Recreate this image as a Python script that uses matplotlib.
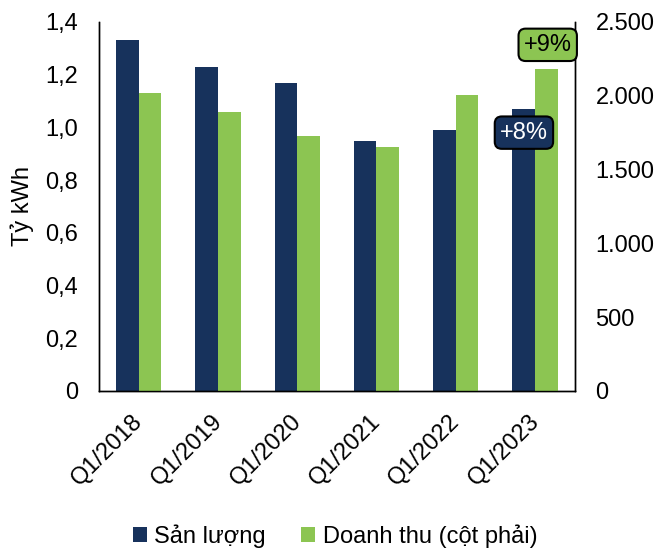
import matplotlib
matplotlib.use("Agg")
import matplotlib.pyplot as plt
import matplotlib.transforms as mtransforms
import numpy as np
from matplotlib.ticker import FuncFormatter

plt.rcParams['font.family'] = ['Liberation Sans', 'DejaVu Sans']

categories = ["Q1/2018", "Q1/2019", "Q1/2020", "Q1/2021", "Q1/2022", "Q1/2023"]
san_luong = [1.33, 1.23, 1.17, 0.95, 0.99, 1.07]          # Tỷ kWh (left axis)
doanh_thu = [2020, 1890, 1725, 1650, 2005, 2180]          # right axis
left_ticks = [0, 0.2, 0.4, 0.6, 0.8, 1.0, 1.2, 1.4]
right_ticks = [0, 500, 1000, 1500, 2000, 2500]

navy = "#17325C"
green = "#8CC552"
fs = 17

fig = plt.figure(figsize=(6.57, 5.49), dpi=100)
ax = fig.add_axes([0.1507, 0.288, 0.724, 0.672])
ax2 = ax.twinx()

x = np.arange(len(categories))
w = 0.286
b1 = ax.bar(x - w/2, san_luong, width=w, color=navy, label="Sản lượng")
b2 = ax2.bar(x + w/2, doanh_thu, width=w, color=green, label="Doanh thu (cột phải)")

ax.set_xlim(-0.5, len(categories) - 0.5)
ax.set_ylim(0, 1.4)
ax2.set_ylim(0, 2500)
ax.set_yticks(left_ticks)
ax2.set_yticks(right_ticks)

ax.yaxis.set_major_formatter(FuncFormatter(lambda v, p: "0" if v == 0 else f"{v:.1f}".replace(".", ",")))
ax2.yaxis.set_major_formatter(FuncFormatter(lambda v, p: f"{int(v):,}".replace(",", ".")))

for a in (ax, ax2):
    a.tick_params(axis='y', length=0, labelsize=fs, pad=15)
    a.tick_params(axis='x', length=0)
    a.spines['top'].set_visible(False)
    for s in ('left', 'right', 'bottom'):
        a.spines[s].set_color("black")
        a.spines[s].set_linewidth(1.0)

ax.set_xticks(x)
ax.set_xticklabels(categories, rotation=45, ha='right', rotation_mode='anchor', fontsize=fs)
ax.tick_params(axis='x', pad=14)
offset = mtransforms.ScaledTranslation(-7/100, 0, fig.dpi_scale_trans)
for lbl in ax.get_xticklabels():
    lbl.set_transform(lbl.get_transform() + offset)

ax.set_ylabel("Tỷ kWh", fontsize=fs, labelpad=8)

ax2.annotate("+9%", xy=(5.16, 2345), ha='center', va='center', fontsize=fs, color='black', zorder=10,
             bbox=dict(boxstyle="round,pad=0.22,rounding_size=0.3", fc=green, ec='black', lw=1.5))
ax2.annotate("+8%", xy=(4.86, 0.98 / 1.4 * 2500), ha='center', va='center', fontsize=fs, color='white', zorder=10,
             bbox=dict(boxstyle="round,pad=0.22,rounding_size=0.3", fc=navy, ec='black', lw=1.5))

fig.legend(handles=[b1, b2], loc='center', bbox_to_anchor=(0.51, 0.024), ncol=2, frameon=False,
           fontsize=fs, handlelength=0.6, handleheight=0.6, handletextpad=0.3, columnspacing=1.5,
           borderpad=0.1)

fig.savefig("out.png", dpi=100)
